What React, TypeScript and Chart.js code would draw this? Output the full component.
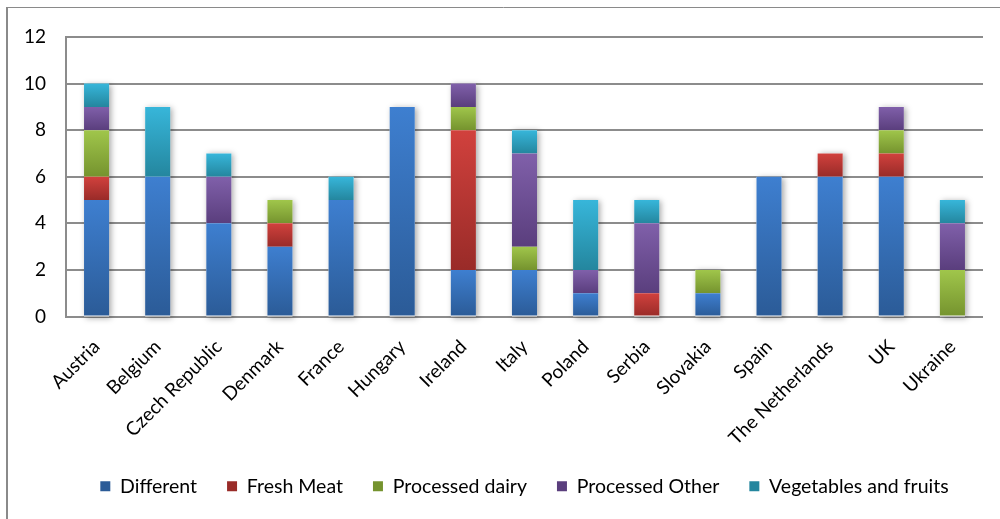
import React, { useEffect, useRef } from "react";
import { Chart, registerables } from "chart.js";

Chart.register(...registerables);

// Countries along the x axis
const countries = [
  "Austria", "Belgium", "Czech Republic", "Denmark", "France", "Hungary", "Ireland",
  "Italy", "Poland", "Serbia", "Slovakia", "Spain", "The Netherlands", "UK", "Ukraine",
];

// Number of items per product group, stacked per country
const different = [5, 6, 4, 3, 5, 9, 2, 2, 1, 0, 1, 6, 6, 6, 0];
const freshMeat = [1, 0, 0, 1, 0, 0, 6, 0, 0, 1, 0, 0, 1, 1, 0];
const processedDairy = [2, 0, 0, 1, 0, 0, 1, 1, 0, 0, 1, 0, 0, 1, 2];
const processedOther = [1, 0, 2, 0, 0, 0, 1, 4, 1, 3, 0, 0, 0, 1, 2];
const vegetablesFruits = [1, 3, 1, 0, 1, 0, 0, 1, 3, 1, 0, 0, 0, 0, 1];

const seriesNames = ["Different", "Fresh Meat", "Processed dairy", "Processed Other", "Vegetables and fruits"];
const seriesValues = [different, freshMeat, processedDairy, processedOther, vegetablesFruits];

// Top / bottom shades of each segment's vertical gradient
const seriesTop = ["#3e7fd0", "#d1413d", "#a0c64b", "#8060aa", "#37b6da"];
const seriesBottom = ["#2b5b97", "#992b28", "#75932e", "#5a3e7d", "#24869e"];
const seriesMid = ["#3874c0", "#c03a36", "#90b540", "#71529a", "#30a6c6"];

const yTicks = { min: 0, max: 12, step: 2 };

const FONT = "Lato, 'Open Sans', sans-serif";

const segmentFill = (ctx: any) => {
  const di = ctx.datasetIndex;
  const chart = ctx.chart;
  if (ctx.type !== "data" || !chart.chartArea || !chart.scales?.y) return seriesMid[di];
  const i = ctx.dataIndex;
  let start = 0;
  for (let d = 0; d < di; d++) start += seriesValues[d][i];
  const end = start + seriesValues[di][i];
  const y = chart.scales.y;
  const top = y.getPixelForValue(end);
  const bottom = y.getPixelForValue(start);
  if (bottom - top < 1) return seriesMid[di];
  const g = chart.ctx.createLinearGradient(0, top, 0, bottom);
  g.addColorStop(0, seriesTop[di]);
  g.addColorStop(1, seriesBottom[di]);
  return g;
};

// Soft drop shadow behind each full stack
const stackShadow = {
  id: "stackShadow",
  beforeDatasetsDraw(chart: any) {
    const { ctx } = chart;
    const y = chart.scales.y;
    const meta = chart.getDatasetMeta(0);
    ctx.save();
    ctx.shadowColor = "rgba(0,0,0,0.35)";
    ctx.shadowBlur = 6;
    ctx.shadowOffsetX = 2;
    ctx.shadowOffsetY = 1;
    ctx.fillStyle = "#ffffff";
    countries.forEach((_, i) => {
      const total = seriesValues.reduce((s, arr) => s + arr[i], 0);
      const el = meta.data[i] as any;
      const top = y.getPixelForValue(total);
      const bottom = y.getPixelForValue(0);
      ctx.fillRect(el.x - el.width / 2, top, el.width, bottom - top);
    });
    ctx.restore();
  },
};

// Outer frame of the chart
const frame = {
  id: "frame",
  beforeDraw(chart: any) {
    const { ctx } = chart;
    ctx.save();
    ctx.strokeStyle = "#8a8a8a";
    ctx.lineWidth = 1;
    ctx.beginPath();
    ctx.moveTo(7, 7.5);
    ctx.lineTo(chart.width, 7.5);
    ctx.stroke();
    ctx.lineWidth = 2;
    ctx.beginPath();
    ctx.moveTo(7, 7);
    ctx.lineTo(7, chart.height);
    ctx.stroke();
    ctx.restore();
  },
};

export default function App() {
  const ref = useRef<HTMLCanvasElement | null>(null);

  useEffect(() => {
    if (!ref.current) return;
    const chart = new Chart(ref.current, {
      type: "bar",
      data: {
        labels: countries,
        datasets: seriesNames.map((name, di) => ({
          label: name,
          data: seriesValues[di],
          backgroundColor: segmentFill,
          borderWidth: 0,
          barPercentage: 0.41,
          categoryPercentage: 1,
        })),
      },
      options: {
        responsive: false,
        animation: false,
        layout: { padding: { top: 37, right: 17, left: 0, bottom: 13 } },
        plugins: {
          legend: {
            position: "bottom",
            fullSize: false,
            labels: {
              boxWidth: 10,
              boxHeight: 10,
              padding: 30,
              color: "#000",
              font: { family: FONT, size: 19.5 },
            },
          },
          tooltip: { enabled: false },
        },
        scales: {
          x: {
            stacked: true,
            grid: { display: false, drawTicks: false, tickLength: 0 },
            border: { display: false },
            ticks: {
              maxRotation: 45,
              minRotation: 45,
              autoSkip: false,
              padding: 19,
              color: "#000",
              font: { family: FONT, size: 19 },
            },
            afterFit(scale: any) {
              scale.height = 130;
            },
          },
          y: {
            stacked: true,
            min: yTicks.min,
            max: yTicks.max,
            ticks: {
              stepSize: yTicks.step,
              padding: 20,
              color: "#000",
              font: { family: FONT, size: 19 },
            },
            grid: { color: "#8c8c8c", lineWidth: 2, drawTicks: false, tickLength: 0 },
            border: { display: true, color: "#8c8c8c", width: 2 },
            afterFit(scale: any) {
              scale.width = 66;
            },
          },
        },
      },
      plugins: [frame, stackShadow],
    });
    return () => chart.destroy();
  }, []);

  return (
    <div style={{ position: "fixed", left: 0, top: 0, width: 1000, height: 519, background: "#fff" }}>
      <canvas ref={ref} width={1000} height={519} />
    </div>
  );
}
